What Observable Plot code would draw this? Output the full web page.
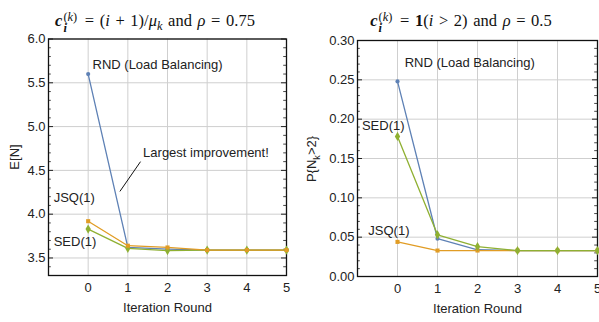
<!DOCTYPE html>
<html>
<head>
<meta charset="utf-8">
<script src="https://cdn.jsdelivr.net/npm/d3@7"></script>
<script src="https://cdn.jsdelivr.net/npm/@observablehq/plot@0.6"></script>
<style>
  body { margin: 0; background: #fff; }
  #wrap { position: relative; width: 599px; height: 322px; overflow: hidden; background: #fff; }
  .pane { position: absolute; top: 0; }
  .title { position: absolute; top: 0; width: 300px; margin-left: -150px; text-align: center; font-family: "Liberation Serif", "DejaVu Serif", serif; font-size: 16.5px; color: #111; white-space: nowrap; line-height: 16px; padding-top: 12px; word-spacing: 1.5px; }
  .ss { display: inline-block; vertical-align: -0.5em; line-height: 0.9em; font-size: 0.75em; text-align: left; margin-left: 1px; margin-right: 2px; word-spacing: 0; }
  .ylab { position: absolute; font-family: "Liberation Sans", Arial, sans-serif; font-size: 13px; color: #222; white-space: nowrap; transform: translate(-50%, -50%) rotate(-90deg); }
  .ylab sub { font-size: 0.7em; }
</style>
</head>
<body>
<div id="wrap">
  <div class="pane" id="left" style="left:0px"></div>
  <div class="pane" id="right" style="left:300px"></div>
  <div class="title" style="left:155px"><b><i>c</i></b><span class="ss">(<i>k</i>)<br><b><i>i</i></b></span> = (<i>i</i> + 1)/<i>μ</i><sub style="font-size:0.75em"><i>k</i></sub> and <i>ρ</i> = 0.75</div>
  <div class="title" style="left:461px"><b><i>c</i></b><span class="ss">(<i>k</i>)<br><b><i>i</i></b></span> = <b>1</b>(<i>i</i> &gt; 2) and <i>ρ</i> = 0.5</div>
  <div class="ylab" style="left:14px; top:157px">E[N]</div>
  <div class="ylab" style="left:313px; top:159px">P{N<sub>k</sub>&gt;2}</div>
</div>
<script>
// ---- data ----
const rounds = [0, 1, 2, 3, 4, 5];
const seriesNames = ["RND (Load Balancing)", "JSQ(1)", "SED(1)"];
const rndMean = [5.60, 3.62, 3.60, 3.59, 3.59, 3.59];
const jsqMean = [3.92, 3.64, 3.62, 3.59, 3.59, 3.59];
const sedMean = [3.83, 3.61, 3.585, 3.59, 3.59, 3.59];
const rndProb = [0.248, 0.048, 0.034, 0.033, 0.033, 0.033];
const jsqProb = [0.044, 0.033, 0.033, 0.033, 0.033, 0.033];
const sedProb = [0.178, 0.053, 0.038, 0.033, 0.033, 0.033];
const leftMajorTicks = [3.5, 4.0, 4.5, 5.0, 5.5, 6.0];
const rightMajorTicks = [0.00, 0.05, 0.10, 0.15, 0.20, 0.25, 0.30];
const xLabel = "Iteration Round";
const annotationText = "Largest improvement!";

const colors = { rnd: "#5E81B5", jsq: "#E19C24", sed: "#8FB032" };
const font = "Liberation Sans, Arial, sans-serif";

function makePanel({ width, ml, mr, mt, mb, yDomain, yMajor, yMinorStep, fmt, series, labels, extra = [] }) {
  const xDomain = [-1, 5];
  const pxPerX = (width - ml - mr) / (xDomain[1] - xDomain[0]);
  const majLen = 5 / pxPerX, minLen = 2.8 / pxPerX;
  const nMinor = Math.round((yDomain[1] - yDomain[0]) / yMinorStep);
  const yMinor = d3.range(nMinor + 1).map(i => +(yDomain[0] + i * yMinorStep).toFixed(4))
    .filter(v => !yMajor.some(m => Math.abs(m - v) < 1e-6));
  const lineMarks = series.map(s => Plot.line(rounds.map((r, i) => ({ x: r, y: s.values[i] })),
    { x: "x", y: "y", stroke: s.color, strokeWidth: 1.3 }));
  const dotMarks = series.map(s => Plot.dot(rounds.map((r, i) => ({ x: r, y: s.values[i] })),
    { x: "x", y: "y", fill: s.color, symbol: s.symbol, r: s.r, stroke: "none" }));
  return Plot.plot({
    width, height: 322,
    marginLeft: ml, marginRight: mr, marginTop: mt, marginBottom: mb,
    x: { domain: xDomain },
    y: { domain: yDomain },
    style: { fontFamily: font, fontSize: "13px", color: "#222", background: "transparent" },
    marks: [
      Plot.gridX(rounds, { stroke: "#cfcfcf", strokeOpacity: 1 }),
      Plot.gridY(yMajor, { stroke: "#cfcfcf", strokeOpacity: 1 }),
      Plot.ruleY(yMinor, { x1: xDomain[0], x2: xDomain[0] + minLen, stroke: "#333", strokeWidth: 0.9 }),
      Plot.ruleY(yMinor, { x1: xDomain[1] - minLen, x2: xDomain[1], stroke: "#333", strokeWidth: 0.9 }),
      Plot.ruleY(yMajor, { x1: xDomain[0], x2: xDomain[0] + majLen, stroke: "#222", strokeWidth: 1 }),
      Plot.ruleY(yMajor, { x1: xDomain[1] - majLen, x2: xDomain[1], stroke: "#222", strokeWidth: 1 }),
      Plot.frame({ stroke: "#111", strokeWidth: 1.3 }),
      Plot.axisX(rounds, { tickSize: 0, tickPadding: 7, label: null, fontSize: 13 }),
      Plot.axisY(yMajor, { tickSize: 0, tickPadding: 3, label: null, tickFormat: d3.format(fmt), fontSize: 13 }),
      Plot.text([xLabel], { frameAnchor: "bottom", lineAnchor: "middle", dy: 32, fontSize: 13, fill: "#222" }),
      ...lineMarks,
      ...dotMarks,
      ...extra,
      Plot.text(labels, { x: "x", y: "y", text: "text", textAnchor: "start", fontSize: 13, fill: "#222" })
    ]
  });
}

const left = makePanel({
  width: 300, ml: 48, mr: 14, mt: 38.5, mb: 47,
  yDomain: [3.3, 6.0], yMajor: leftMajorTicks, yMinorStep: 0.1, fmt: ".1f",
  series: [
    { values: rndMean, color: colors.rnd, symbol: "circle", r: 2.1 },
    { values: sedMean, color: colors.sed, symbol: "diamond", r: 2.8 },
    { values: jsqMean, color: colors.jsq, symbol: "square", r: 2.3 }
  ],
  labels: [
    { x: 0.11, y: 5.70, text: seriesNames[0] },
    { x: -0.87, y: 4.19, text: seriesNames[1] },
    { x: -0.87, y: 3.69, text: seriesNames[2] },
    { x: 1.385, y: 4.70, text: annotationText }
  ],
  extra: [
    Plot.link([{ x1: 0.80, y1: 4.26, x2: 1.32, y2: 4.60 }], { x1: "x1", y1: "y1", x2: "x2", y2: "y2", stroke: "#111", strokeWidth: 1 })
  ]
});

const right = makePanel({
  width: 299, ml: 57, mr: 2, mt: 40, mb: 46,
  yDomain: [0, 0.30], yMajor: rightMajorTicks, yMinorStep: 0.01, fmt: ".2f",
  series: [
    { values: rndProb, color: colors.rnd, symbol: "circle", r: 2.1 },
    { values: jsqProb, color: colors.jsq, symbol: "square", r: 2.3 },
    { values: sedProb, color: colors.sed, symbol: "diamond", r: 2.8 }
  ],
  labels: [
    { x: 0.18, y: 0.272, text: seriesNames[0] },
    { x: -0.89, y: 0.191, text: seriesNames[2] },
    { x: -0.73, y: 0.058, text: seriesNames[1] }
  ]
});

document.getElementById("left").appendChild(left);
document.getElementById("right").appendChild(right);
</script>
</body>
</html>
